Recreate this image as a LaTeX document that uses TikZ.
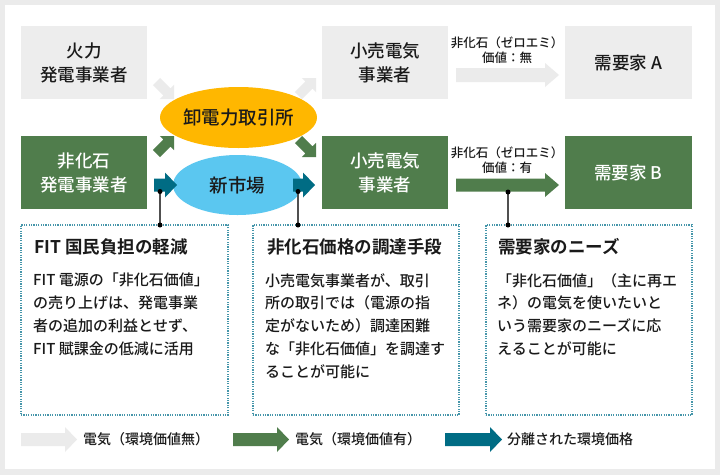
\documentclass[tikz,border=0pt]{standalone}
\usepackage{fontspec}
\setmainfont{Noto Sans CJK JP Medium}[BoldFont={Noto Sans CJK JP Bold}]
\usetikzlibrary{calc,shapes.geometric}
\definecolor{outerbg}{RGB}{235,235,235}
\definecolor{boxgray}{RGB}{237,237,237}
\definecolor{arrgray}{RGB}{235,235,235}
\definecolor{dgreen}{RGB}{80,125,76}
\definecolor{dteal}{RGB}{0,108,132}
\definecolor{lblue}{RGB}{91,199,240}
\definecolor{orng}{RGB}{255,183,0}
\definecolor{dotteal}{RGB}{70,150,170}
\definecolor{txt}{RGB}{26,26,26}
\definecolor{lingray}{RGB}{80,80,80}
\newcommand\blockarr[6]{%
  \coordinate (ba-a) at (#2);
  \coordinate (ba-b) at (#3);
  \coordinate (ba-h) at ($(ba-b)!#6!(ba-a)$);
  \fill[#1] ($(ba-a)!#4!90:(ba-b)$) -- ($(ba-h)!#4!90:(ba-b)$) -- ($(ba-h)!#5!90:(ba-b)$)
    -- (ba-b) -- ($(ba-h)!#5!-90:(ba-b)$) -- ($(ba-h)!#4!-90:(ba-b)$) -- ($(ba-a)!#4!-90:(ba-b)$) -- cycle;
}
\tikzset{
  graybox/.style={fill=boxgray, minimum width=126pt, minimum height=73pt, inner sep=0pt, align=center,
    font=\fontsize{17.5}{24}\selectfont, text=txt},
  greenbox/.style={graybox, fill=dgreen, text=white},
  market/.style={ellipse, inner sep=0pt, font=\fontsize{18.5}{22}\selectfont, text=txt},
  smalllbl/.style={align=center, inner sep=0pt, font=\fontsize{12.5}{15}\selectfont, text=txt},
  infobox/.style={draw=dotteal, line width=1.1pt, dash pattern=on 1.2pt off 1.2pt, minimum width=206pt, minimum height=190pt, inner sep=0pt},
  boxtitle/.style={anchor=west, inner sep=0pt, font=\bfseries\fontsize{17.5}{20}\selectfont, text=txt},
  boxbody/.style={anchor=north west, align=left, inner sep=0pt, font=\fontsize{15}{22.8}\selectfont, text=txt},
  legendtxt/.style={anchor=west, inner sep=0pt, font=\fontsize{14}{16}\selectfont, text=txt},
  pin/.style={draw=lingray, line width=1.1pt},
}
\begin{document}
\begin{tikzpicture}[x=1pt,y=-1pt]
\fill[outerbg] (0,0) rectangle (720,475);
\fill[white] (5,5) rectangle (715,469);

% boxes
\node[graybox] (thermal) at (84,62.5) {火力\\発電事業者};
\node[greenbox] (nonfossil) at (84,172.5) {非化石\\発電事業者};
\node[graybox] (retailA) at (385,62.5) {小売電気\\事業者};
\node[greenbox] (retailB) at (385,172.5) {小売電気\\事業者};
\node[graybox, minimum width=127pt] (custA) at (628.5,62.5) {需要家 A};
\node[greenbox, minimum width=127pt] (custB) at (628.5,172.5) {需要家 B};

% markets
\node[market, fill=orng, minimum width=131pt, minimum height=61pt] (jepx) at (238.5,117.5) {卸電力取引所};
\node[market, fill=lblue, minimum width=129pt, minimum height=60pt] (newmkt) at (237.5,185) {新市場};

% arrow end points
\coordinate (g1s) at (156.5,81.5);   \coordinate (g1e) at (174,99);
\coordinate (g2s) at (298.5,95.5);   \coordinate (g2e) at (316,78);
\coordinate (n1s) at (156.5,153.5);  \coordinate (n1e) at (174,136);
\coordinate (n2s) at (298.5,139.5);  \coordinate (n2e) at (316,157);
\coordinate (t1s) at (154,185);  \coordinate (t1e) at (177,185);
\coordinate (t2s) at (293,185);  \coordinate (t2e) at (315,185);
\coordinate (bAs) at (456,75);   \coordinate (bAe) at (559,75);
\coordinate (bBs) at (456,185);  \coordinate (bBe) at (559,185);

\blockarr{arrgray}{g1s}{g1e}{5pt}{10pt}{10pt}
\blockarr{arrgray}{g2s}{g2e}{5pt}{10pt}{10pt}
\blockarr{dgreen}{n1s}{n1e}{5pt}{10pt}{10pt}
\blockarr{dgreen}{n2s}{n2e}{5pt}{10pt}{10pt}
\blockarr{dteal}{t1s}{t1e}{6.5pt}{12.5pt}{12pt}
\blockarr{dteal}{t2s}{t2e}{6.5pt}{12.5pt}{12pt}
\blockarr{arrgray}{bAs}{bAe}{7pt}{12pt}{14pt}
\blockarr{dgreen}{bBs}{bBe}{6.5pt}{12pt}{14pt}

\node[smalllbl] (lblA) at (507,50.5) {非化石（ゼロエミ）\\価値：無};
\node[smalllbl] (lblB) at (507,160.5) {非化石（ゼロエミ）\\価値：有};

% info boxes
\node[infobox, minimum width=207pt] (info1) at (124.5,320) {};
\node[infobox] (info2) at (356,320) {};
\node[infobox] (info3) at (589,320) {};

\node[boxtitle] (title1) at (34,247) {FIT 国民負担の軽減};
\node[boxtitle] (title2) at (267,247) {非化石価格の調達手段};
\node[boxtitle] (title3) at (498,247) {需要家のニーズ};

\node[boxbody] (body1) at (33,273) {FIT 電源の「非化石価値」\\の売り上げは、発電事業\\者の追加の利益とせず、\\FIT 賦課金の低減に活用};
\node[boxbody] (body2) at (265,273) {小売電気事業者が、取引\\所の取引では（電源の指\\定がないため）調達困難\\な「非化石価値」を調達す\\ることが可能に};
\node[boxbody] (body3) at (497,273) {「非化石価値」（主に再エ\\ネ）の電気を使いたいと\\いう需要家のニーズに応\\えることが可能に};

% pins
\coordinate (p1a) at (160,191.5); \coordinate (p1b) at (160,225);
\coordinate (p2a) at (298,191.5); \coordinate (p2b) at (298,225);
\coordinate (p3a) at (508,192);   \coordinate (p3b) at (508,225);
\draw[pin] (p1a) -- (p1b);
\draw[pin] (p2a) -- (p2b);
\draw[pin] (p3a) -- (p3b);
\foreach \p in {p1a,p1b,p2a,p2b,p3a,p3b} \fill[black] (\p) circle (2.5pt);

% legend
\coordinate (l1s) at (21,439.5);  \coordinate (l1e) at (77,439.5);
\coordinate (l2s) at (233,439.5); \coordinate (l2e) at (289,439.5);
\coordinate (l3s) at (445,439.5); \coordinate (l3e) at (502,439.5);
\blockarr{arrgray}{l1s}{l1e}{6.5pt}{12.5pt}{12pt}
\blockarr{dgreen}{l2s}{l2e}{6.5pt}{12.5pt}{12pt}
\blockarr{dteal}{l3s}{l3e}{6.5pt}{12.5pt}{12pt}
\node[legendtxt] (leg1) at (83,439.5) {電気（環境価値無）};
\node[legendtxt] (leg2) at (295,439.5) {電気（環境価値有）};
\node[legendtxt] (leg3) at (507,439.5) {分離された環境価格};
\end{tikzpicture}
\end{document}
